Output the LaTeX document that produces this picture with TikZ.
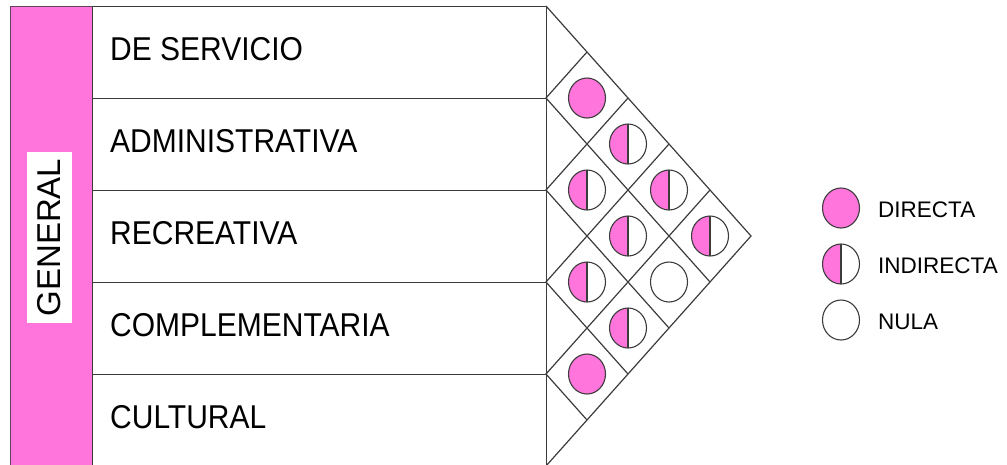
\documentclass[tikz,border=0pt]{standalone}
\usepackage{fontspec}
\setmainfont{Liberation Sans}
\usetikzlibrary{shapes.geometric}
\definecolor{mag}{RGB}{255,117,220}
\definecolor{ln}{RGB}{60,60,60}
\definecolor{barln}{RGB}{90,70,85}
\begin{document}
\begin{tikzpicture}[x=1pt,y=-1pt,
  gridline/.style={draw=ln,line width=1.2pt},
  rowbox/.style={draw=ln,line width=1.2pt,minimum width=454pt,minimum height=92pt,anchor=north west,inner sep=0pt},
  rowlabel/.style={anchor=west,inner sep=0pt,font=\fontsize{30}{36}\selectfont},
  markbase/.style={ellipse,draw=ln,line width=1.1pt,minimum width=37pt,minimum height=40pt,inner sep=0pt},
  directa/.style={markbase,fill=mag},
  indirecta/.style={markbase,fill=white,path picture={\fill[mag] (path picture bounding box.south west) rectangle (path picture bounding box.north); \draw[ln,line width=1.1pt] (path picture bounding box.north) -- (path picture bounding box.south);}},
  nula/.style={markbase,fill=white},
  legtext/.style={anchor=west,inner sep=0pt,font=\fontsize{22.5}{27}\selectfont}]
\useasboundingbox (0,0) rectangle (1007,464);
\begin{scope}
\clip (0,0) rectangle (1007,464);
% magenta bar
\node[fill=mag,draw=barln,line width=1.2pt,minimum width=82pt,minimum height=470pt,anchor=north west,inner sep=0pt] (bar) at (10,6) {};
\node[fill=white,minimum width=45pt,minimum height=171pt,inner sep=0pt] (gbox) at (49.5,237.5) {};
\node[rotate=90,inner sep=0pt,font=\fontsize{33}{40}\selectfont] (general) at (gbox.center) {GENERAL};
% rows
\node[rowbox] (r0) at (92,6) {};
\node[rowbox] (r1) at (92,98) {};
\node[rowbox] (r2) at (92,190) {};
\node[rowbox] (r3) at (92,282) {};
\node[rowbox] (r4) at (92,374) {};
\node[rowlabel] (l0) at (110,49) {\scalebox{1}[1.1]{DE SERVICIO}};
\node[rowlabel] (l1) at (110,141) {\scalebox{1}[1.1]{ADMINISTRATIVA}};
\node[rowlabel] (l2) at (110,233) {\scalebox{1}[1.1]{RECREATIVA}};
\node[rowlabel] (l3) at (110,325) {\scalebox{1}[1.1]{COMPLEMENTARIA}};
\node[rowlabel] (l4) at (110,417) {\scalebox{1}[1.1]{CULTURAL}};
% roof matrix
\coordinate (T) at (546,6);
\coordinate (apex) at (751,236);
\coordinate (B) at (546,466);
\draw[gridline] (T) -- (apex) -- (B);
\foreach \k in {1,2,3,4}{
  \draw[gridline] ({546+41*\k},{6+46*\k}) -- (546,{6+92*\k}) -- ({751-41*\k},{236+46*\k});
}
\end{scope}
% marks
\node[directa]   (c01) at (587,98) {};
\node[indirecta] (c12) at (587,190) {};
\node[indirecta] (c23) at (587,282) {};
\node[directa]   (c34) at (587,374) {};
\node[indirecta] (c02) at (628,144) {};
\node[indirecta] (c13) at (628,236) {};
\node[indirecta] (c24) at (628,328) {};
\node[indirecta] (c03) at (669,190) {};
\node[nula]      (c14) at (669,282) {};
\node[indirecta] (c04) at (710,236) {};
% legend
\node[directa]   (kd) at (841,208) {};
\node[indirecta] (ki) at (841,264) {};
\node[nula]      (kn) at (841,320) {};
\node[legtext] (td) at (878,210) {DIRECTA};
\node[legtext] (ti) at (878,266) {INDIRECTA};
\node[legtext] (tn) at (878,322) {NULA};
\end{tikzpicture}
\end{document}
